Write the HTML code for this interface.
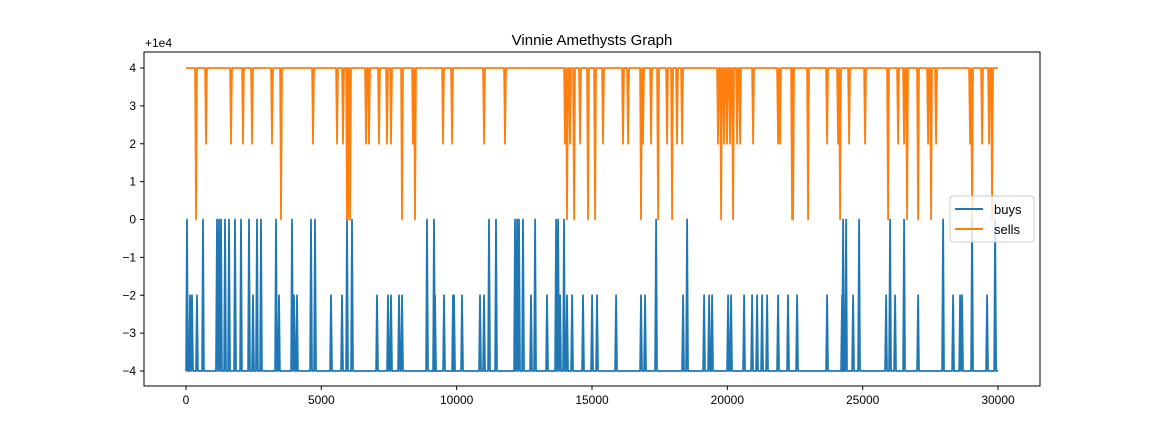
<!DOCTYPE html>
<html><head><meta charset="utf-8"><style>
body{margin:0;background:#fff}
text{font-family:"Liberation Sans","DejaVu Sans",sans-serif}
</style></head><body>
<svg id="chart" width="1155" height="434" xmlns="http://www.w3.org/2000/svg">
<rect width="1155" height="434" fill="#fff"/>
<text x="592" y="45" font-size="15" text-anchor="middle">Vinnie Amethysts Graph</text>
<text x="145" y="47" font-size="12" text-anchor="start">+1e4</text>
<g id="plot"></g>
<rect x="144" y="52" width="896" height="334" fill="none" stroke="#000" stroke-width="1"/>
<g>
<rect x="950" y="196" width="84" height="46" rx="3" fill="#fff" fill-opacity="0.8" stroke="#ccc"/>
<line x1="955" y1="209" x2="983" y2="209" stroke="#1f77b4" stroke-width="2"/>
<text x="994" y="214" font-size="13">buys</text>
<line x1="955" y1="229" x2="983" y2="229" stroke="#ff7f0e" stroke-width="2"/>
<text x="994" y="234" font-size="13">sells</text>
</g>
</svg>
<script>
const xTicks=[0,5000,10000,15000,20000,25000,30000];
const yTicks=[-4,-3,-2,-1,0,1,2,3,4];
const buysBase=-4;
const buySpikeX=[37,148,222,406,628,1145,1219,1293,1441,1589,1811,2032,2328,2476,2623,2771,3326,3436,3917,3991,4101,4619,4767,5358,5764,5949,6134,7057,7464,7575,7870,7981,8905,9164,9201,9533,9866,9903,10198,10863,11011,11196,11455,12157,12231,12304,12452,12748,12896,13339,13672,13746,13820,13967,14078,14263,14669,15002,15186,15889,16812,16960,17367,18364,18512,19140,19325,19436,20027,20138,20618,20914,21098,21283,21468,21874,22243,22576,23685,24239,24276,24387,24646,24868,25865,26013,26197,26530,27047,27971,28341,28600,28673,29043,29597,29893];
const buySpikeY=[0,-2,-2,-2,0,0,0,0,0,0,0,0,0,-2,0,0,0,-2,0,-2,-2,0,0,-2,-2,0,0,-2,-2,-2,-2,-2,0,0,-2,-2,-2,-2,-2,-2,-2,0,0,0,0,0,0,-2,0,-2,0,0,-2,0,-2,-2,-2,-2,-2,-2,-2,-2,0,-2,0,-2,-2,-2,-2,-2,-2,-2,-2,-2,-2,-2,-2,-2,-2,-2,0,0,-2,0,-2,0,-2,0,-2,0,-2,-2,-2,0,-2,0];
const sellsBase=4;
const sellSpikeX=[370,739,1663,2106,2439,3178,3510,4693,5579,5801,5949,5986,6060,6651,6762,7131,7427,7575,7981,8388,8462,9496,9829,11011,11787,14004,14078,14189,14337,14558,14854,15113,15408,16147,16332,16812,16886,17182,17441,17773,17958,18142,18327,19657,19768,19879,19990,20101,20212,20360,20471,20951,21874,21948,22392,22429,22983,23685,24091,24165,24498,25089,25939,26308,26530,26641,27047,27416,27527,27712,28969,29043,29412,29671,29782];
const sellSpikeY=[0,2,2,2,2,2,0,2,2,2,0,0,0,2,2,2,2,2,0,2,0,2,2,2,2,2,0,2,0,2,0,0,2,2,2,0,2,2,0,2,0,2,2,2,0,2,2,2,0,2,2,2,2,2,0,0,0,2,2,0,2,2,0,2,2,0,0,2,0,2,2,0,2,2,0];

const X0=144,X1=1040,Y0=52,Y1=386;
const sx=v=>186+(v-0)*(998-186)/30000;
const sy=v=>219.5-v*(371-68)/8;
const g=document.getElementById('plot');
const NS='http://www.w3.org/2000/svg';
function mk(t,a){const e=document.createElementNS(NS,t);for(const k in a)e.setAttribute(k,a[k]);return e;}
xTicks.forEach(t=>{
  const l=mk('line',{x1:sx(t),x2:sx(t),y1:Y1,y2:Y1+4,stroke:'#000'});
  
  
  g.appendChild(l);
  const tx=mk('text',{x:sx(t),y:Y1+18,'font-size':12,'text-anchor':'middle'});
  tx.textContent=t;
  
  
  g.appendChild(tx);
});
yTicks.forEach(t=>{
  const l=mk('line',{x1:X0-4,x2:X0,y1:sy(t),y2:sy(t),stroke:'#000'});
  
  
  g.appendChild(l);
  const tx=mk('text',{x:X0-8,y:sy(t)+4,'font-size':12,'text-anchor':'end'});
  tx.textContent=t<0?'\u2212'+(-t):t;
  
  
  g.appendChild(tx);
});
function series(xs,ys,base,color,name){
  const pts=[[0,base]];
  xs.forEach((x,i)=>{pts.push([x-35,base]);pts.push([x,ys[i]]);pts.push([x+35,base]);});
  pts.push([30000,base]);
  const p=mk('polyline',{points:pts.map(q=>sx(q[0]).toFixed(1)+','+sy(q[1]).toFixed(1)).join(' '),fill:'none',stroke:color,'stroke-width':1.8,'stroke-linejoin':'round'});
  
  
  g.appendChild(p);
}
series(buySpikeX,buySpikeY,buysBase,'#1f77b4','buys-line');
series(sellSpikeX,sellSpikeY,sellsBase,'#ff7f0e','sells-line');
</script>
</body></html>
